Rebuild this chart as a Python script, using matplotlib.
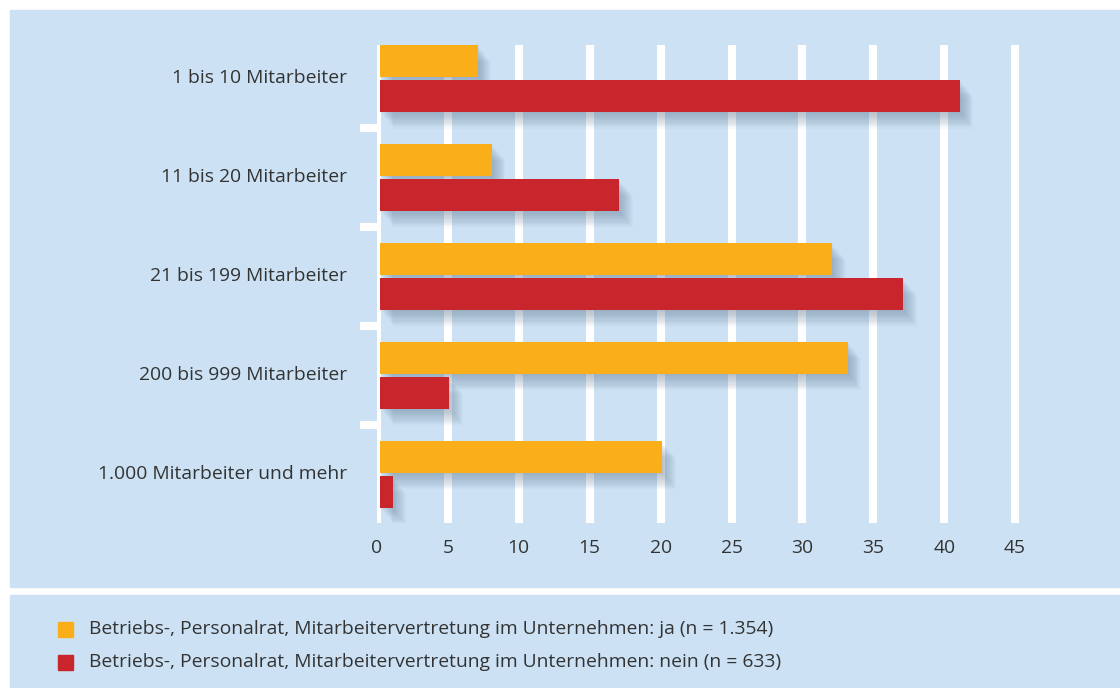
import matplotlib
matplotlib.use("Agg")
import matplotlib.pyplot as plt
import matplotlib.patheffects as pe
from matplotlib.patches import Rectangle
import numpy as np

# Daten
categories = ["1 bis 10 Mitarbeiter", "11 bis 20 Mitarbeiter", "21 bis 199 Mitarbeiter",
              "200 bis 999 Mitarbeiter", "1.000 Mitarbeiter und mehr"]
ja_values = [7.1, 8.1, 32.1, 33.2, 20.1]
nein_values = [41.1, 17.1, 37.1, 5.1, 1.1]
xticks = [0, 5, 10, 15, 20, 25, 30, 35, 40, 45]
legend_labels = ["Betriebs-, Personalrat, Mitarbeitervertretung im Unternehmen: ja (n = 1.354)",
                 "Betriebs-, Personalrat, Mitarbeitervertretung im Unternehmen: nein (n = 633)"]

ORANGE = "#f9ae1a"
RED = "#c9252c"
BG = "#cce2f4"
TXT = "#333333"
FS = 13.9

plt.rcParams['font.family'] = ['Open Sans', 'DejaVu Sans']

W, H = 1120, 688
fig = plt.figure(figsize=(W / 100, H / 100), dpi=100)
fig.patch.set_facecolor("white")


def px_rect(x0, y0, x1, y1):
    # Pixel-Koordinaten (oben links) -> Figure-Koordinaten
    return [x0 / W, 1 - y1 / H, (x1 - x0) / W, (y1 - y0) / H]


# Hintergrundflaechen
fig.add_artist(Rectangle((10 / W, 1 - 587 / H), 1, (587 - 10) / H,
                         transform=fig.transFigure, color=BG, zorder=0))
fig.add_artist(Rectangle((10 / W, 0), 1, (688 - 595) / H,
                         transform=fig.transFigure, color=BG, zorder=0))

x_max = 46
ax = fig.add_axes(px_rect(377, 45, 377 + x_max * 14.18, 523))
ax.set_facecolor("none")
for s in ax.spines.values():
    s.set_visible(False)

y = np.arange(len(categories))
off = 0.177
bh = 0.323
start = 0.2  # Balken beginnen rechts neben der Nulllinie

# Gitterlinien
for t in xticks:
    ax.axvline(t, color="white", lw=5.8, zorder=1)

shadow = [pe.SimplePatchShadow(offset=(o * 0.7, -o * 0.85), shadow_rgbFace="#4d6480", alpha=0.032)
          for o in range(1, 15)] + [pe.Normal()]

for yi, v in zip(y, ja_values):
    b = ax.barh(yi - off, v - start, height=bh, left=start, color=ORANGE, zorder=3)
    b[0].set_path_effects(shadow)
for yi, v in zip(y, nein_values):
    b = ax.barh(yi + off, v - start, height=bh, left=start, color=RED, zorder=4)
    b[0].set_path_effects(shadow)

ax.set_xlim(0, x_max)
ax.set_ylim(4.49, -0.338)

# Trennstriche links
for sep in [0.5, 1.5, 2.5, 3.5]:
    ax.plot([-1.2, 0], [sep, sep], color="white", lw=5.8, solid_capstyle="butt",
            clip_on=False, zorder=2)

ax.set_yticks([])
ax.set_xticks([])
for t in xticks:
    ax.text(t, 4.49 + 0.25, str(t), ha="center", va="center", fontsize=FS, color=TXT)
for yi, c in zip(y, categories):
    ax.text(-2.1, yi, c, ha="right", va="center", fontsize=FS, color=TXT)

# Legende
for i, (lab, col) in enumerate(zip(legend_labels, [ORANGE, RED])):
    yc = 629.5 + i * 32.5
    fig.add_artist(Rectangle((58 / W, 1 - (yc + 7.5) / H), 15 / W, 15 / H,
                             transform=fig.transFigure, color=col))
    fig.text(89 / W, 1 - yc / H, lab, ha="left", va="center", fontsize=FS, color=TXT)

fig.savefig("out.png", dpi=100, facecolor="white")
